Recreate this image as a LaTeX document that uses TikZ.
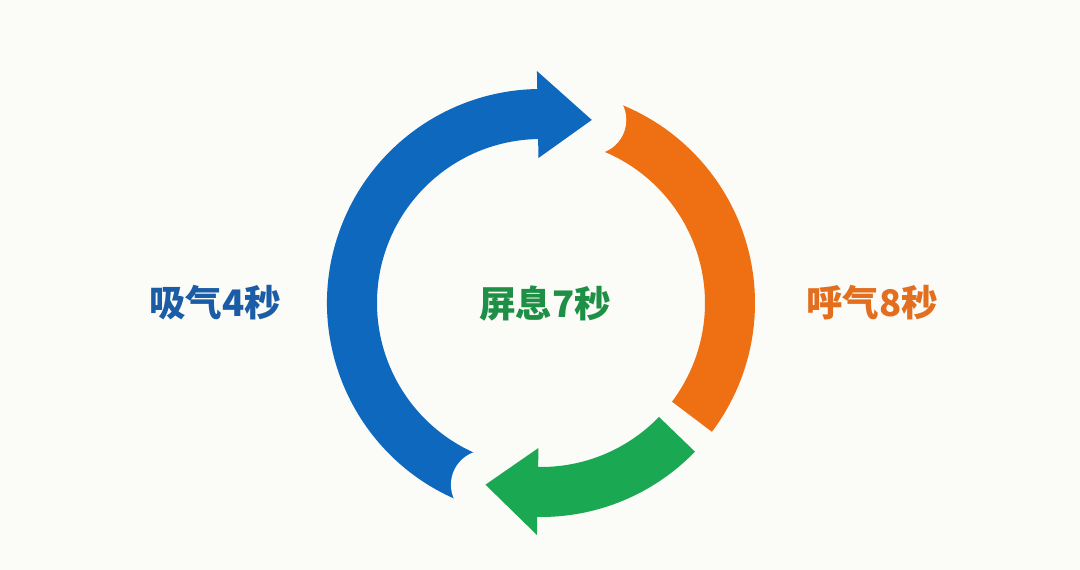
\documentclass[tikz,border=0pt]{standalone}
\usepackage{fontspec}
\newfontfamily\cjk{Noto Sans CJK SC}
\definecolor{bgc}{RGB}{251,251,247}
\definecolor{inc}{RGB}{14,104,190}
\definecolor{exc}{RGB}{238,112,18}
\definecolor{hoc}{RGB}{26,168,82}
\definecolor{intxt}{RGB}{27,92,166}
\definecolor{extxt}{RGB}{226,110,30}
\definecolor{hotxt}{RGB}{30,144,70}

\begin{document}
\begin{tikzpicture}[x=0.025cm, y=0.025cm,
  lbl/.style={font=\cjk\bfseries\fontsize{26}{30}\selectfont, inner sep=0pt},
  notch/.style={fill=bgc}
]
  \fill[bgc] (-541,-267) rectangle (539,303);
  \coordinate (tipIn)   at (74.5:190);
  \coordinate (tipHold) at (-107:190);

  % exhale band, cut by the gap round the inhale tip
  \fill[exc] (-37:214) arc[start angle=-37, end angle=71, radius=214]
    -- (71:164) arc[start angle=71, end angle=-37, radius=164] -- cycle;
  \fill[notch] (tipIn) circle[radius=34.5];

  % inhale arrow
  \fill[inc] (248:214) arc[start angle=248, end angle=91, radius=214]
    -- (91:232) -- (tipIn) -- (91:145)
    -- (91:164) arc[start angle=91, end angle=248, radius=164] -- cycle;
  \fill[notch] (tipHold) circle[radius=34.5];

  % hold arrow
  \fill[hoc] (-44:214) arc[start angle=-44, end angle=-91, radius=214]
    -- (-91:232) -- (tipHold) -- (-91:145)
    -- (-91:164) arc[start angle=-91, end angle=-44, radius=164] -- cycle;

  \node[lbl, text=intxt] (inhale) at (-326,0) {吸气4秒};
  \node[lbl, text=hotxt] (hold)   at (4,-1)   {屏息7秒};
  \node[lbl, text=extxt] (exhale) at (331,0)  {呼气8秒};
\end{tikzpicture}
\end{document}
